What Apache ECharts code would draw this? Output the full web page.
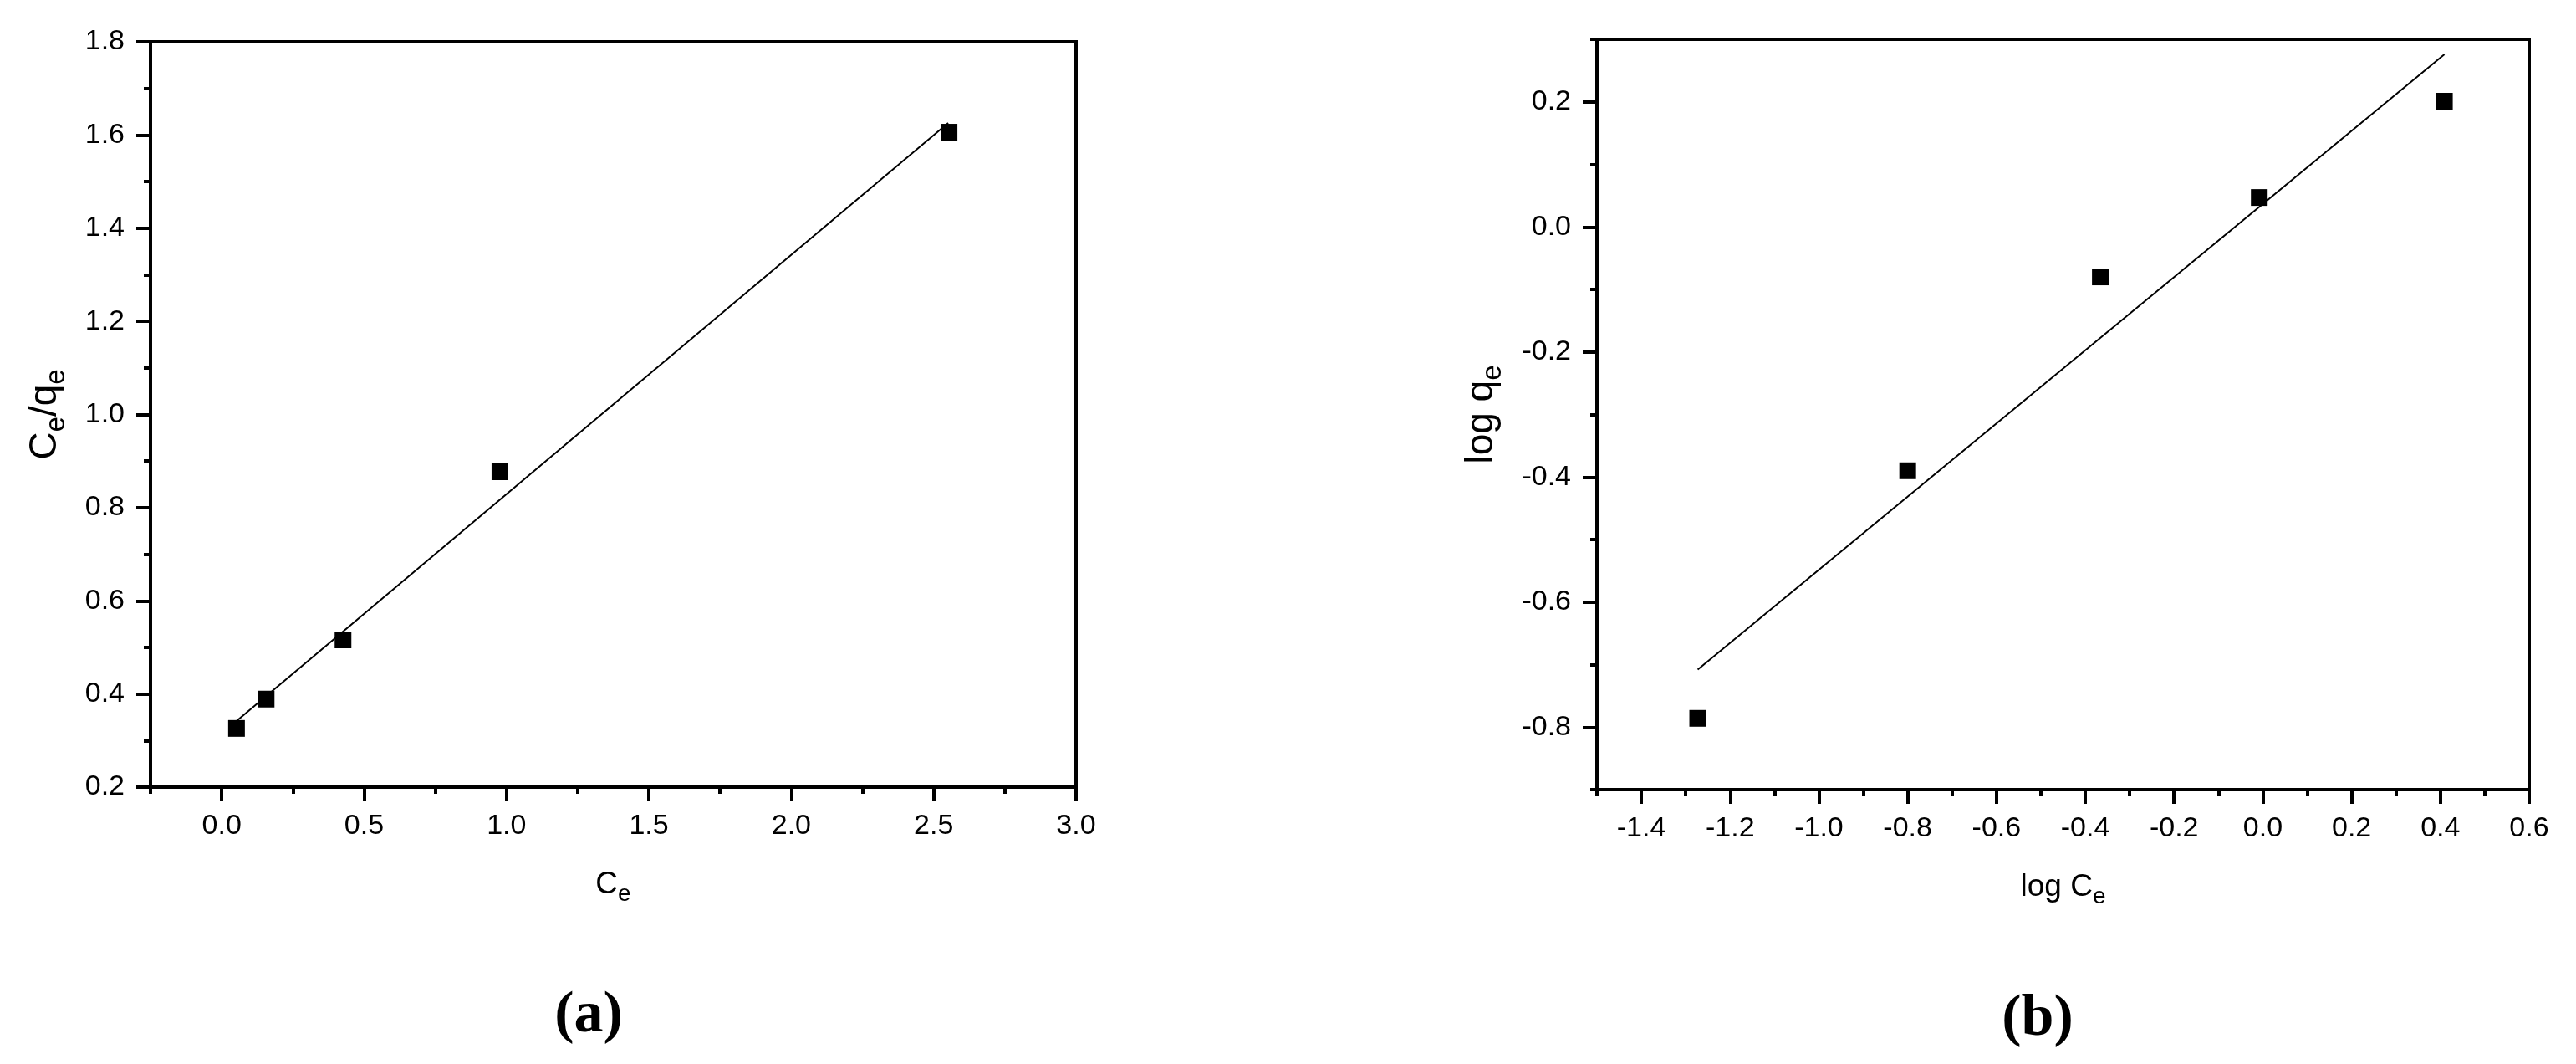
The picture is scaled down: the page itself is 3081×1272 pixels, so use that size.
<!DOCTYPE html>
<html>
<head>
<meta charset="utf-8">
<script src="https://cdn.jsdelivr.net/npm/echarts@6/dist/echarts.min.js"></script>
<style>
html,body{margin:0;padding:0;background:#fff;}
#main{width:3081px;height:1272px;}
</style>
</head>
<body>
<div id="main"></div>
<script>
// (a) Langmuir
var ceA = [0.052, 0.156, 0.426, 0.977, 2.554];
var ratioA = [0.326, 0.389, 0.516, 0.877, 1.606];
var fitAx = [0.052, 2.551];
var fitAy = [0.342, 1.626];
var xMajorA = [0, 0.5, 1.0, 1.5, 2.0, 2.5, 3.0];
var xMinorA = [-0.25, 0.25, 0.75, 1.25, 1.75, 2.25, 2.75];

// (b) Freundlich
var logC = [-1.273, -0.800, -0.366, -0.008, 0.409];
var logQ = [-0.786, -0.390, -0.080, 0.047, 0.201];
var fitBx = [-1.273, 0.409];
var fitBy = [-0.708, 0.276];
var xMajorB = [-1.4, -1.2, -1.0, -0.8, -0.6, -0.4, -0.2, 0.0, 0.2, 0.4, 0.6];
var xMinorB = [-1.5, -1.3, -1.1, -0.9, -0.7, -0.5, -0.3, -0.1, 0.1, 0.3, 0.5];
var yMajorB = [-0.8, -0.6, -0.4, -0.2, 0.0, 0.2];
var yMinorB = [-0.9, -0.7, -0.5, -0.3, -0.1, 0.1, 0.3];

function pairs(xs, ys) {
    var out = [];
    for (var i = 0; i < xs.length; i++) out.push([xs[i], ys[i]]);
    return out;
}

var font = 'Liberation Sans, Arial, sans-serif';
var black = '#000';
var axisLine = {show: true, onZero: false, lineStyle: {color: black, width: 4}};
var fmt = function (v) { return v.toFixed(1); };

function xNameStyle() {
    return {
        color: black, fontFamily: font,
        rich: {
            m: {fontSize: 37, fontFamily: font, color: black},
            s: {fontSize: 28, fontFamily: font, color: black, padding: [22, 0, 0, 0]}
        }
    };
}
function yNameStyle() {
    return {
        color: black, fontFamily: font,
        rich: {
            m: {fontSize: 46, fontFamily: font, color: black},
            s: {fontSize: 33, fontFamily: font, color: black, padding: [26, 0, 0, 0]}
        }
    };
}

function minorAxis(grid, pos, min, max, vals) {
    return {
        type: 'value', gridIndex: grid, position: pos, min: min, max: max,
        axisLine: {show: false, onZero: false},
        axisTick: {show: true, inside: false, length: 8, customValues: vals, lineStyle: {color: black, width: 4}},
        axisLabel: {show: false},
        splitLine: {show: false}
    };
}

var chart = echarts.init(document.getElementById('main'));
var option = {
    backgroundColor: '#fff',
    animation: false,
    grid: [
        {left: 180, top: 50, width: 1107, height: 891, show: true, borderColor: black, borderWidth: 4},
        {left: 1910, top: 47, width: 1115, height: 897, show: true, borderColor: black, borderWidth: 4}
    ],
    xAxis: [
        {
            type: 'value', gridIndex: 0, position: 'bottom', min: -0.25, max: 3.0,
            axisLine: axisLine,
            axisTick: {show: true, length: 17, customValues: xMajorA, lineStyle: {color: black, width: 4}},
            axisLabel: {show: true, margin: 30, customValues: xMajorA, color: black, fontSize: 34, fontFamily: font, formatter: fmt},
            splitLine: {show: false},
            name: '{m|C}{s|e}', nameLocation: 'middle', nameGap: 92,
            nameTextStyle: xNameStyle()
        },
        minorAxis(0, 'bottom', -0.25, 3.0, xMinorA),
        {
            type: 'value', gridIndex: 1, position: 'bottom', min: -1.5, max: 0.6,
            axisLine: axisLine,
            axisTick: {show: true, length: 17, customValues: xMajorB, lineStyle: {color: black, width: 4}},
            axisLabel: {show: true, margin: 30, customValues: xMajorB, color: black, fontSize: 34, fontFamily: font, formatter: fmt},
            splitLine: {show: false},
            name: '{m|log C}{s|e}', nameLocation: 'middle', nameGap: 92,
            nameTextStyle: xNameStyle()
        },
        minorAxis(1, 'bottom', -1.5, 0.6, xMinorB)
    ],
    yAxis: [
        {
            type: 'value', gridIndex: 0, position: 'left', min: 0.2, max: 1.8, interval: 0.2,
            axisLine: axisLine,
            axisTick: {show: true, length: 17, lineStyle: {color: black, width: 4}},
            minorTick: {show: true, splitNumber: 2, length: 8, lineStyle: {color: black, width: 4}},
            axisLabel: {show: true, margin: 31, color: black, fontSize: 34, fontFamily: font, formatter: fmt},
            splitLine: {show: false},
            name: '{m|C}{s|e}{m|/q}{s|e}', nameLocation: 'middle', nameRotate: 90, nameGap: 96,
            nameTextStyle: yNameStyle()
        },
        {
            type: 'value', gridIndex: 1, position: 'left', min: -0.9, max: 0.3,
            axisLine: axisLine,
            axisTick: {show: true, length: 17, customValues: yMajorB, lineStyle: {color: black, width: 4}},
            axisLabel: {show: true, margin: 31, customValues: yMajorB, color: black, fontSize: 34, fontFamily: font, formatter: fmt},
            splitLine: {show: false},
            name: '{m|log q}{s|e}', nameLocation: 'middle', nameRotate: 90, nameGap: 108,
            nameTextStyle: yNameStyle()
        },
        minorAxis(1, 'left', -0.9, 0.3, yMinorB)
    ],
    series: [
        {
            type: 'line', xAxisIndex: 0, yAxisIndex: 0,
            data: pairs(fitAx, fitAy),
            showSymbol: false, symbol: 'none',
            lineStyle: {color: black, width: 2}, z: 2
        },
        {
            type: 'scatter', xAxisIndex: 0, yAxisIndex: 0,
            data: pairs(ceA, ratioA),
            symbol: 'rect', symbolSize: 20,
            itemStyle: {color: black, opacity: 1}, z: 3
        },
        {
            type: 'line', xAxisIndex: 2, yAxisIndex: 1,
            data: pairs(fitBx, fitBy),
            showSymbol: false, symbol: 'none',
            lineStyle: {color: black, width: 2}, z: 2
        },
        {
            type: 'scatter', xAxisIndex: 2, yAxisIndex: 1,
            data: pairs(logC, logQ),
            symbol: 'rect', symbolSize: 20,
            itemStyle: {color: black, opacity: 1}, z: 3
        }
    ],
    graphic: [
        {type: 'text', x: 704, y: 1215, style: {text: '(a)', fontSize: 70, fontWeight: 'bold', fontFamily: 'Liberation Serif, Times New Roman, serif', fill: black, align: 'center', verticalAlign: 'middle'}},
        {type: 'text', x: 2437, y: 1219, style: {text: '(b)', fontSize: 70, fontWeight: 'bold', fontFamily: 'Liberation Serif, Times New Roman, serif', fill: black, align: 'center', verticalAlign: 'middle'}}
    ]
};
chart.setOption(option);
</script>
</body>
</html>
